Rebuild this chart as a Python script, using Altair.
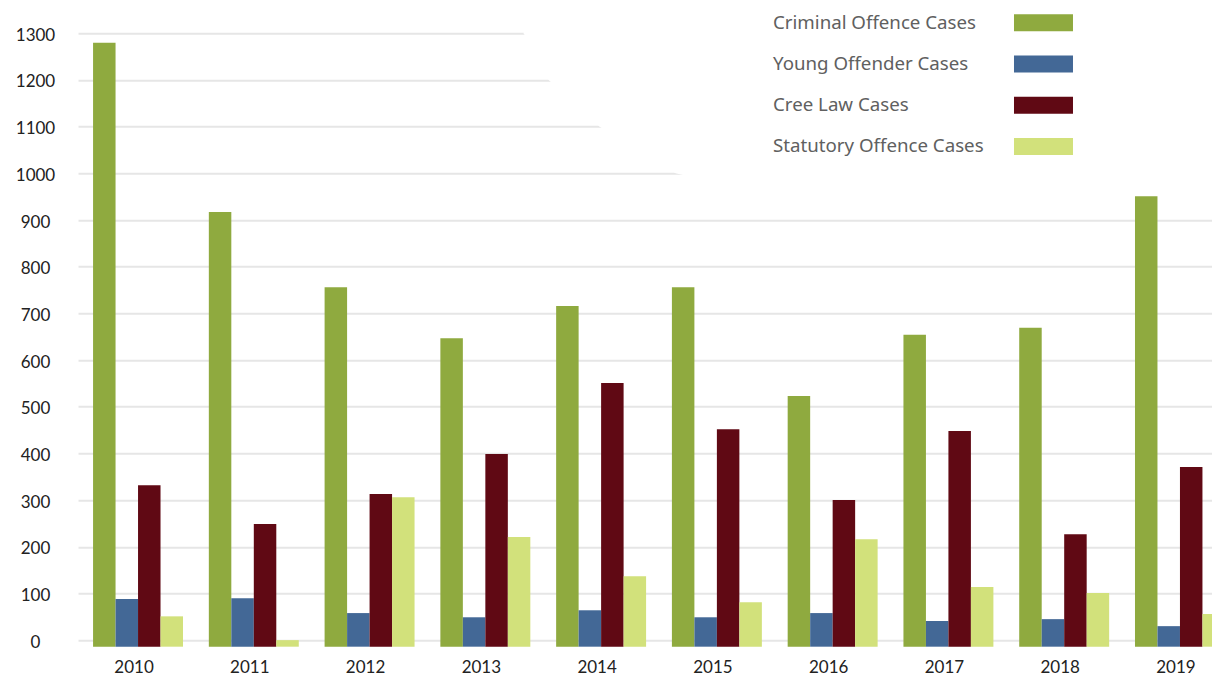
import altair as alt
import pandas as pd

years = ["2010", "2011", "2012", "2013", "2014", "2015", "2016", "2017", "2018", "2019"]
series = ["Criminal Offence Cases", "Young Offender Cases", "Cree Law Cases", "Statutory Offence Cases"]
criminal = [1280, 917, 756, 647, 716, 756, 523, 654, 669, 951]
young = [88, 90, 58, 49, 64, 49, 58, 41, 45, 30]
cree = [332, 249, 313, 399, 551, 452, 300, 448, 227, 371]
statutory = [51, 0, 306, 221, 137, 81, 216, 114, 101, 56]
colors = ["#8faa3f", "#436896", "#600914", "#d2e17b"]
y_ticks = list(range(0, 1301, 100))

# baseline of the bars (the reference draws them from slightly below the 0 gridline)
BASE = -14
Y_MAX = 1300

# white backdrop behind the legend that hides the upper gridlines (fraction of width, value)
mask_x = [0.393, 0.415, 0.460, 0.527, 0.64, 1.0]
mask_y = [1300, 1200, 1100, 1000, 935, 935]

rows = []
for i, yr in enumerate(years):
    for s, vals in zip(series, [criminal, young, cree, statutory]):
        rows.append({"year": yr, "series": s, "cases": vals[i]})
df = pd.DataFrame(rows)
mask_df = pd.DataFrame({"mx": mask_x, "my": mask_y, "top": [1345] * len(mask_x)})

PLOT_W = 1134

mask = alt.Chart(mask_df).mark_area(color="white", opacity=1).encode(
    x=alt.X("mx:Q", scale=alt.Scale(domain=[0, 1], nice=False, zero=False), axis=None),
    y=alt.Y("my:Q", scale=alt.Scale(domain=[BASE, Y_MAX], nice=False, zero=False), axis=None),
    y2="top:Q",
)

bars = alt.Chart(df).mark_bar().encode(
    x=alt.X(
        "year:N",
        sort=years,
        title=None,
        # the reference's band layout runs slightly past the right edge of the picture
        scale=alt.Scale(paddingInner=0.223, paddingOuter=0.13, range=[0, 1162]),
        axis=alt.Axis(
            labelAngle=0, ticks=False, domain=False, grid=False,
            labelFont="Lato", labelFontSize=17, labelColor="#222222",
            labelPadding=13, labelOffset=-4,
        ),
    ),
    xOffset=alt.XOffset("series:N", sort=series, scale=alt.Scale(paddingInner=0, paddingOuter=0)),
    y=alt.Y(
        "cases:Q",
        title=None,
        scale=alt.Scale(domain=[BASE, Y_MAX], nice=False, zero=False),
        axis=alt.Axis(
            values=y_ticks, format="d", ticks=False, domain=False, grid=True,
            gridColor="#e6e6e6", gridWidth=2,
            labelFont="Lato", labelFontSize=17, labelColor="#222222",
            labelAlign="center", labelPadding=43, labelOffset=2,
        ),
    ),
    y2=alt.datum(BASE),
    color=alt.Color(
        "series:N",
        sort=series,
        scale=alt.Scale(domain=series, range=colors),
        legend=alt.Legend(
            title=None, orient="none", legendX=936, legendY=-40,
            symbolType="M-1,-0.288L1,-0.288L1,0.288L-1,0.288Z",
            symbolSize=3481, symbolStrokeWidth=0, symbolOpacity=1,
            labelOffset={"expr": "-300"}, labelFont="Noto Sans", labelFontSize=18.7,
            labelColor="#606060", labelLimit=400, rowPadding=1.2, padding=0,
        ),
    ),
)

chart = (
    alt.layer(mask, bars)
    .resolve_scale(x="independent", y="independent")
    .properties(
        width=PLOT_W, height=613.4,
        autosize=alt.AutoSizeParams(type="none"),
        padding={"left": 70, "top": 25.3, "right": 0, "bottom": 31},
        background="white",
    )
    .configure_view(stroke=None)
)

chart.save("out.html", embed_options={"renderer": "svg", "actions": False})
